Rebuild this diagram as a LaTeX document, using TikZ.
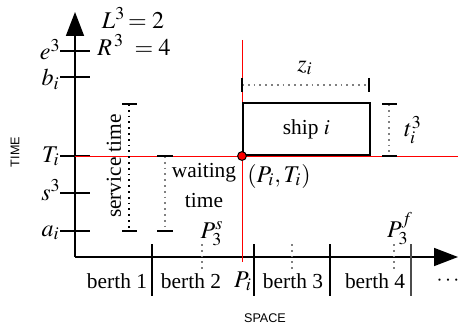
\documentclass[tikz,border=0pt]{standalone}
\usepackage{mathptmx}
\usepackage{fontspec}
\setmainfont{Liberation Serif}
\newfontfamily\axisfont{Liberation Sans}
\usetikzlibrary{arrows.meta, positioning}

\begin{document}
\begin{tikzpicture}[
    x=0.5pt, y=-0.5pt,
    every node/.style={font=\fontsize{10.7}{12}\selectfont, inner sep=1pt},
    mathlab/.style={font=\fontsize{12}{14}\selectfont},
    axis/.style={-{Triangle[length=12pt,width=9pt]}, line width=0.8pt},
    tick/.style={line width=0.7pt},
    boldtick/.style={line width=1.2pt},
    span/.style={dotted, gray, line width=0.9pt},
    redline/.style={red, line width=0.5pt},
    sep/.style={line width=0.6pt},
    axislabel/.style={font=\fontsize{6.3}{7}\selectfont\axisfont}
]
\useasboundingbox (0,0) rectangle (458,331);

% Axes
\coordinate (o) at (75,257);
\coordinate (ytop) at (75,12);
\coordinate (xend) at (458,257);
\draw[axis] (o) -- (ytop);
\draw[axis] (o) -- (xend);
\node[axislabel, rotate=90] (time) at (15,152) {TIME};
\node[axislabel] (space) at (265,318) {SPACE};

% Time marks
\draw[boldtick] (60,51) -- (90,51);
\foreach \y in {77,156,193,231}
    \draw[tick] (60,\y) -- (90,\y);
\node[mathlab, anchor=base east] (e3) at (63,60) {$e^3$};
\node[mathlab, anchor=base east] (bi) at (62,86) {$b_i$};
\node[mathlab, anchor=base east] (Ti) at (62,162) {$T_i$};
\node[mathlab, anchor=base east] (s3) at (63,200) {$s^3$};
\node[mathlab, anchor=base east] (ai) at (62,236) {$a_i$};
\node[mathlab] (L3) at (133,18) {$L^3\!= 2$};
\node[mathlab] (R3) at (134,45) {$R^{\,3}\;=4$};

% Red guide lines
\coordinate (redstart) at (75,156);
\coordinate (redend) at (458,156);
\coordinate (pitop) at (242,40);
\coordinate (pibot) at (242,262);
\draw[redline] (redstart) -- (redend);
\draw[redline] (pitop) -- (pibot);

% Ship
\node[draw, line width=0.9pt, minimum width=63.5pt, minimum height=26pt,
      anchor=south west, inner sep=0pt] (ship) at (242,156) {ship $i$};
\node[circle, fill=red, draw=black, line width=0.5pt, inner sep=0pt,
      minimum size=4.4pt] (PT) at (242,156) {};
\node[mathlab] (ptlab) at (279,176) {$(P_i,T_i)$};

% Length z_i
\coordinate (zl) at (242,85);
\coordinate (zr) at (369,85);
\draw[span] (zl) -- (zr);
\draw[boldtick] (242,78) -- (242,92);
\draw[boldtick] (369,78) -- (369,92);
\node[mathlab] (zi) at (305,68) {$z_i$};

% Handling time t_i^3
\coordinate (ttop) at (389,104);
\coordinate (tbot) at (389,156);
\draw[span] (ttop) -- (tbot);
\draw[boldtick] (382,104) -- (397,104);
\draw[boldtick] (382,156) -- (397,156);
\node[mathlab] (ti3) at (413,130) {$t_i^3$};

% Service time
\coordinate (svtop) at (129,104);
\coordinate (svbot) at (129,231);
\draw[dotted, line width=0.9pt] (svtop) -- (svbot);
\draw[tick] (122,104) -- (137,104);
\draw[tick] (122,231) -- (137,231);
\node[rotate=90] (svlab) at (114,166) {service time};

% Waiting time
\coordinate (wtop) at (165,156);
\coordinate (wbot) at (165,231);
\draw[span] (wtop) -- (wbot);
\draw[tick] (157,156) -- (173,156);
\draw[tick] (157,231) -- (173,231);
\node (wait) at (204,173) {waiting};
\node[below=3pt of wait] (waittime) {time};

% Berths
\draw[sep] (152,244) -- (152,296);
\draw[sep] (254,244) -- (254,296);
\draw[line width=1.3pt] (330,244) -- (330,296);
\draw[sep, black!70] (411,244) -- (411,296);
\foreach \x in {202,292,394}
    \draw[span] (\x,244) -- (\x,270);
\node[anchor=base] (b1) at (117,288) {berth 1};
\node[anchor=base] (b2) at (191,288) {berth 2};
\node[anchor=base] (b3) at (293,288) {berth 3};
\node[anchor=base] (b4) at (375,288) {berth 4};
\node (more) at (448,281) {$\cdots$};
\node[mathlab, anchor=base] (Pi) at (243,287) {$P_i$};
\node[mathlab, anchor=base] (P3s) at (212,238) {$P_3^s$};
\node[mathlab, anchor=base] (P3f) at (400,237) {$P_3^f$};

\end{tikzpicture}
\end{document}
